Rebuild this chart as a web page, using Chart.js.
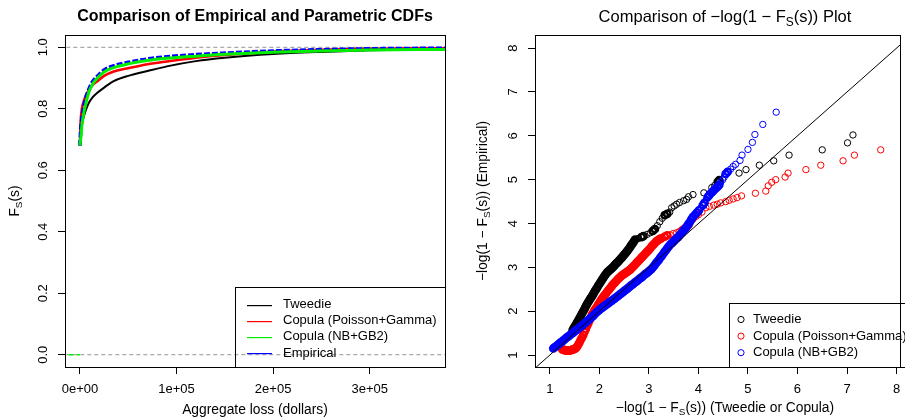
<!DOCTYPE html>
<html>
<head>
<meta charset="utf-8">
<script src="https://cdn.jsdelivr.net/npm/chart.js@4.4.1/dist/chart.umd.min.js"></script>
<style>
  html, body { margin: 0; padding: 0; background: #fff; }
  #wrap { position: relative; width: 905px; height: 417px; overflow: hidden; }
  .panel { position: absolute; top: 0; height: 417px; }
  #left { left: 0; width: 452px; }
  #right { left: 452px; width: 453px; }
</style>
</head>
<body>
<div id="wrap">
  <div class="panel" id="left"><canvas id="cdfChart"></canvas></div>
  <div class="panel" id="right"><canvas id="qqChart"></canvas></div>
</div>
<script>
const FONT = '"Liberation Sans", Arial, Helvetica, sans-serif';

// ---- left panel: CDFs of aggregate loss ----
const lossGrid     = [0, 700, 2000, 4000, 6000, 9000, 13000, 18000, 25000, 35000, 50000, 70000, 90000, 120000, 150000, 200000, 250000, 300000, 378000];
const cdfTweedie   = [0.68, 0.72, 0.748, 0.775, 0.795, 0.818, 0.837, 0.852, 0.869, 0.89, 0.907, 0.923, 0.938, 0.955, 0.966, 0.978, 0.985, 0.99, 0.994];
const cdfPoisGamma = [0.68, 0.755, 0.80, 0.825, 0.842, 0.86, 0.877, 0.89, 0.907, 0.921, 0.932, 0.945, 0.954, 0.966, 0.975, 0.986, 0.992, 0.995, 0.997];
const cdfNbGb2     = [0.68, 0.70, 0.745, 0.787, 0.815, 0.852, 0.88, 0.90, 0.92, 0.934, 0.946, 0.957, 0.964, 0.971, 0.977, 0.984, 0.988, 0.991, 0.993];
const cdfEmpirical = [0.68, 0.73, 0.77, 0.809, 0.835, 0.862, 0.888, 0.906, 0.926, 0.94, 0.951, 0.962, 0.969, 0.976, 0.981, 0.988, 0.992, 0.995, 0.997];
const negTailX = [-20000, 0];
const negTailY = [0, 0];

const lossTicks = [0, 100000, 200000, 300000];
const lossTickLabels = ['0e+00', '1e+05', '2e+05', '3e+05'];
const probTicks = [0, 0.2, 0.4, 0.6, 0.8, 1.0];
const probTickLabels = ['0.0', '0.2', '0.4', '0.6', '0.8', '1.0'];
const refLineX = [-1e6, 1e6];
const cdfLegend = ['Tweedie', 'Copula (Poisson+Gamma)', 'Copula (NB+GB2)', 'Empirical'];

// ---- right panel: -log(1 - F) model vs empirical ----
const tweedieX = [
  1.46, 1.48, 1.50, 1.52, 1.54, 1.56, 1.58, 1.60, 1.62, 1.64, 1.66, 1.68, 1.70, 1.72, 1.74, 1.76,
  1.78, 1.80, 1.82, 1.84, 1.86, 1.88, 1.90, 1.92, 1.94, 1.96, 1.98, 2.00, 2.02, 2.04, 2.06, 2.08,
  2.10, 2.12, 2.14, 2.16, 2.18, 2.20, 2.22, 2.24, 2.26, 2.28, 2.30, 2.32, 2.34, 2.36, 2.38, 2.40,
  2.42, 2.44, 2.46, 2.48, 2.50, 2.52, 2.54, 2.56, 2.58, 2.60, 2.62, 2.64, 2.66, 2.68, 2.70, 2.72,
  2.79, 2.85, 2.89, 2.96, 3.03, 3.08, 3.12, 3.17, 3.22, 3.27, 3.32, 3.37, 3.42, 3.46, 3.51, 3.56,
  3.62, 3.70, 3.76, 3.80, 3.89, 4.11, 4.27, 4.33, 4.39, 4.42, 4.82, 4.96, 5.23, 5.52, 5.83, 6.50,
  7.01, 7.12
];
const tweedieY = [
  1.57, 1.61, 1.65, 1.68, 1.72, 1.76, 1.80, 1.84, 1.88, 1.93, 1.97, 2.01, 2.05, 2.10, 2.14, 2.18,
  2.22, 2.25, 2.29, 2.32, 2.36, 2.40, 2.44, 2.48, 2.51, 2.55, 2.59, 2.62, 2.66, 2.69, 2.73, 2.76,
  2.80, 2.83, 2.86, 2.89, 2.91, 2.93, 2.95, 2.97, 2.99, 3.01, 3.04, 3.06, 3.09, 3.11, 3.13, 3.16,
  3.18, 3.21, 3.23, 3.26, 3.29, 3.31, 3.34, 3.37, 3.40, 3.43, 3.46, 3.50, 3.53, 3.56, 3.60, 3.63,
  3.66, 3.69, 3.71, 3.75, 3.79, 3.83, 3.87, 3.95, 4.04, 4.12, 4.19, 4.22, 4.26, 4.36, 4.40, 4.44,
  4.48, 4.52, 4.55, 4.61, 4.66, 4.70, 4.82, 4.87, 4.95, 4.99, 5.15, 5.23, 5.33, 5.43, 5.56, 5.68,
  5.84, 6.02
];

const poisGammaX = [
  1.250, 1.275, 1.300, 1.325, 1.350, 1.375, 1.400, 1.425, 1.450, 1.475, 1.500, 1.525, 1.550, 1.575,
  1.600, 1.625, 1.650, 1.675, 1.700, 1.725, 1.750, 1.775, 1.800, 1.825, 1.850, 1.875, 1.900, 1.925,
  1.950, 1.975, 2.000, 2.025, 2.050, 2.075, 2.100, 2.125, 2.150, 2.175, 2.200, 2.225, 2.250, 2.275,
  2.300, 2.325, 2.350, 2.375, 2.400, 2.425, 2.450, 2.475, 2.500, 2.525, 2.550, 2.575, 2.600, 2.625,
  2.650, 2.675, 2.700, 2.725, 2.750, 2.775, 2.800, 2.825, 2.850, 2.875, 2.900, 2.925, 2.950, 2.975,
  3.000, 3.025, 3.050, 3.075, 3.100, 3.125, 3.150, 3.175, 3.200, 3.225, 3.250,
  3.32, 3.37, 3.43, 3.49, 3.56, 3.62, 3.68, 3.72, 3.76, 3.80, 3.84, 3.89, 3.95, 4.00, 4.07, 4.15,
  4.22, 4.31, 4.38, 4.45, 4.55, 4.62, 4.70, 4.78, 4.87, 5.15, 5.36, 5.41, 5.48, 5.56, 5.75, 5.81,
  6.17, 6.47, 6.92, 7.15, 7.68
];
const poisGammaY = [
  1.13, 1.12, 1.11, 1.10, 1.10, 1.10, 1.10, 1.11, 1.12, 1.13, 1.14, 1.16, 1.19, 1.24,
  1.29, 1.35, 1.40, 1.46, 1.53, 1.59, 1.66, 1.72, 1.79, 1.85, 1.92, 1.97, 2.02, 2.06,
  2.10, 2.15, 2.19, 2.24, 2.28, 2.32, 2.36, 2.39, 2.43, 2.47, 2.50, 2.54, 2.57, 2.61,
  2.64, 2.67, 2.70, 2.73, 2.76, 2.78, 2.81, 2.83, 2.85, 2.87, 2.89, 2.91, 2.93, 2.95,
  2.98, 3.01, 3.04, 3.07, 3.10, 3.13, 3.16, 3.19, 3.22, 3.25, 3.28, 3.31, 3.34, 3.37,
  3.40, 3.43, 3.47, 3.50, 3.53, 3.56, 3.59, 3.61, 3.63, 3.65, 3.66,
  3.70, 3.73, 3.74, 3.77, 3.79, 3.82, 3.85, 3.88, 3.92, 3.97, 4.03, 4.10, 4.16, 4.20, 4.26, 4.36,
  4.39, 4.42, 4.44, 4.47, 4.50, 4.53, 4.56, 4.59, 4.63, 4.69, 4.74, 4.86, 4.94, 5.00, 5.06, 5.15,
  5.23, 5.33, 5.43, 5.56, 5.68
];

const nbGb2X = [
  1.07, 1.10, 1.13, 1.16, 1.19, 1.22, 1.25, 1.28, 1.31, 1.34, 1.37, 1.40, 1.43, 1.46, 1.49, 1.52,
  1.55, 1.58, 1.61, 1.64, 1.67, 1.70, 1.73, 1.76, 1.79, 1.82, 1.85, 1.88, 1.91, 1.94, 1.97, 2.00,
  2.03, 2.06, 2.09, 2.12, 2.15, 2.18, 2.21, 2.24, 2.27, 2.30, 2.33, 2.36, 2.39, 2.42, 2.45, 2.48,
  2.51, 2.54, 2.57, 2.60, 2.63, 2.66, 2.69, 2.72, 2.75, 2.78, 2.81, 2.84, 2.87, 2.90, 2.93, 2.96,
  2.99, 3.02, 3.05, 3.08, 3.11, 3.14, 3.17, 3.20, 3.23, 3.26, 3.29, 3.32, 3.35, 3.38, 3.41, 3.44,
  3.47, 3.50, 3.53, 3.56, 3.59, 3.62, 3.65, 3.68, 3.71, 3.74, 3.77, 3.80, 3.83, 3.86, 3.89,
  3.93, 3.97, 4.01, 4.05, 4.09, 4.12, 4.16, 4.19, 4.22, 4.26, 4.29, 4.32, 4.35, 4.39, 4.42, 4.45,
  4.49, 4.52, 4.55, 4.59, 4.65, 4.70, 4.75, 4.84, 4.88, 5.00, 5.09, 5.14, 5.30, 5.57
];
const nbGb2Y = [
  1.15, 1.18, 1.20, 1.23, 1.26, 1.29, 1.31, 1.34, 1.37, 1.40, 1.42, 1.45, 1.48, 1.50, 1.53, 1.56,
  1.58, 1.61, 1.64, 1.66, 1.69, 1.72, 1.75, 1.78, 1.81, 1.84, 1.87, 1.90, 1.94, 1.97, 2.00, 2.03,
  2.06, 2.08, 2.11, 2.13, 2.16, 2.18, 2.21, 2.23, 2.26, 2.28, 2.31, 2.33, 2.36, 2.39, 2.41, 2.44,
  2.47, 2.49, 2.52, 2.55, 2.58, 2.60, 2.63, 2.66, 2.68, 2.71, 2.74, 2.76, 2.79, 2.82, 2.85, 2.87,
  2.90, 2.93, 2.96, 3.00, 3.04, 3.09, 3.13, 3.17, 3.22, 3.26, 3.31, 3.36, 3.40, 3.45, 3.49, 3.53,
  3.56, 3.59, 3.63, 3.66, 3.69, 3.73, 3.77, 3.81, 3.85, 3.89, 3.94, 3.99, 4.04, 4.10, 4.15,
  4.20, 4.25, 4.30, 4.36, 4.42, 4.47, 4.55, 4.61, 4.65, 4.70, 4.73, 4.77, 4.80, 4.84, 4.88, 4.94,
  5.00, 5.06, 5.13, 5.18, 5.24, 5.30, 5.35, 5.44, 5.56, 5.69, 5.85, 6.03, 6.26, 6.54
];

const diagX = [0, 10];
const qqTicks = [1, 2, 3, 4, 5, 6, 7, 8];
const qqLegend = ['Tweedie', 'Copula (Poisson+Gamma)', 'Copula (NB+GB2)'];

const pts = (xs, ys) => xs.map((x, i) => ({ x, y: ys[i] }));

// draws a label with an F_S style subscript, optionally rotated
function drawMath(ctx, parts, x, y, size, weight, rotated) {
  const fontFor = sub => `${weight} ${sub ? size * 0.72 : size}px ${FONT}`;
  ctx.save();
  ctx.translate(x, y);
  if (rotated) ctx.rotate(-Math.PI / 2);
  let total = 0;
  parts.forEach(([t, sub]) => { ctx.font = fontFor(sub); total += ctx.measureText(t).width; });
  let cx = -total / 2;
  ctx.textAlign = 'left';
  ctx.textBaseline = 'middle';
  ctx.fillStyle = '#000';
  parts.forEach(([t, sub]) => {
    ctx.font = fontFor(sub);
    ctx.fillText(t, cx, sub ? size * 0.32 : 0);
    cx += ctx.measureText(t).width;
  });
  ctx.restore();
}

function drawBox(ctx, area) {
  ctx.save();
  ctx.setLineDash([]);
  ctx.strokeStyle = '#000';
  ctx.lineWidth = 1;
  ctx.strokeRect(Math.round(area.left) + 0.5, Math.round(area.top) + 0.5,
    Math.round(area.right - area.left), Math.round(area.bottom - area.top));
  ctx.restore();
}

function drawYLabels(chart, values, labels, xPos) {
  const ctx = chart.ctx;
  const ys = chart.scales.y;
  ctx.save();
  ctx.font = `13px ${FONT}`;
  ctx.fillStyle = '#000';
  ctx.textAlign = 'center';
  ctx.textBaseline = 'middle';
  values.forEach((v, i) => {
    ctx.save();
    ctx.translate(xPos, ys.getPixelForValue(v));
    ctx.rotate(-Math.PI / 2);
    ctx.fillText(labels[i], 0, 0);
    ctx.restore();
  });
  ctx.restore();
}

const fixTicks = list => scale => { scale.ticks = list.map(v => ({ value: v })); };

function axisX(min, max, ticks, labels) {
  return {
    type: 'linear', min, max,
    afterBuildTicks: fixTicks(ticks),
    afterFit: s => { s.height = 50; s.paddingLeft = 0; s.paddingRight = 0; },
    grid: { drawOnChartArea: false, drawTicks: true, tickLength: 7, color: '#000' },
    border: { display: false },
    ticks: {
      padding: 8, color: '#000', font: { family: FONT, size: 13 },
      maxRotation: 0, autoSkip: false,
      callback: (v, i) => labels[i]
    }
  };
}

function axisY(min, max, ticks, width) {
  return {
    type: 'linear', min, max,
    afterBuildTicks: fixTicks(ticks),
    afterFit: s => { s.width = width; s.paddingTop = 0; s.paddingBottom = 0; },
    grid: { drawOnChartArea: false, drawTicks: true, tickLength: 7, color: '#000' },
    border: { display: false },
    ticks: { display: false }
  };
}

const common = {
  responsive: true,
  maintainAspectRatio: false,
  animation: false,
  devicePixelRatio: 1,
  events: [],
  plugins: { legend: { display: false }, tooltip: { enabled: false } }
};

// ---- left chart ----
const cdfColors = ['#000000', '#ff0000', '#00ee00', '#0000ff'];

const cdfDecor = {
  id: 'cdfDecor',
  afterDraw(chart) {
    const ctx = chart.ctx;
    const a = chart.chartArea;
    drawBox(ctx, a);
    drawYLabels(chart, probTicks, probTickLabels, 43.5);
    drawMath(ctx, [['Comparison of Empirical and Parametric CDFs', false]], 255, 17, 16, 'bold', false);
    drawMath(ctx, [['Aggregate loss (dollars)', false]], 255, 410, 13.8, 'normal', false);
    drawMath(ctx, [['F', false], ['S', true], ['(s)', false]], 15, 201, 13.8, 'normal', true);

    // legend, transparent box in the lower right corner
    ctx.save();
    ctx.setLineDash([]);
    ctx.strokeStyle = '#000';
    ctx.lineWidth = 1;
    ctx.strokeRect(235.5, 287.5, a.right - 235, a.bottom - 287);
    ctx.font = `13px ${FONT}`;
    ctx.textAlign = 'left';
    ctx.textBaseline = 'middle';
    cdfLegend.forEach((lab, i) => {
      const y = 304.5 + i * 16.2;
      ctx.fillStyle = cdfColors[i];
      ctx.fillRect(247, Math.round(y), 25, 1.2);
      ctx.fillStyle = '#000';
      ctx.fillText(lab, 283, y);
    });
    ctx.restore();
  }
};

new Chart(document.getElementById('cdfChart'), {
  type: 'line',
  data: {
    datasets: [
      { data: pts(refLineX, [1, 1]), borderColor: '#aaaaaa', borderWidth: 1.3, borderDash: [4, 3], pointRadius: 0, order: 10 },
      { data: pts(refLineX, [0, 0]), borderColor: '#aaaaaa', borderWidth: 1.3, borderDash: [4, 3], pointRadius: 0, order: 10 },
      { data: pts(lossGrid, cdfTweedie), borderColor: cdfColors[0], borderWidth: 2, pointRadius: 0, cubicInterpolationMode: 'monotone', order: 5 },
      { data: pts(lossGrid, cdfPoisGamma), borderColor: cdfColors[1], borderWidth: 2.6, pointRadius: 0, cubicInterpolationMode: 'monotone', order: 4 },
      { data: pts(lossGrid, cdfEmpirical), borderColor: cdfColors[3], borderWidth: 3.6, borderDash: [6, 2], pointRadius: 0, cubicInterpolationMode: 'monotone', order: 3 },
      { data: pts(lossGrid, cdfNbGb2), borderColor: cdfColors[2], borderWidth: 3, pointRadius: 0, cubicInterpolationMode: 'monotone', order: 2 },
      { data: pts(negTailX, negTailY), borderColor: cdfColors[2], borderWidth: 1.5, borderDash: [5, 3], pointRadius: 0, order: 1 }
    ]
  },
  options: {
    ...common,
    layout: { padding: { left: 0, top: 35, right: 7, bottom: 0 } },
    scales: {
      x: axisX(-15500, 378000, lossTicks, lossTickLabels),
      y: axisY(-0.04, 1.04, probTicks, 65)
    }
  },
  plugins: [cdfDecor]
});

// ---- right chart ----
const qqColors = ['#000000', '#ff0000', '#0000ff'];

const qqDecor = {
  id: 'qqDecor',
  afterDraw(chart) {
    const ctx = chart.ctx;
    const a = chart.chartArea;
    drawBox(ctx, a);
    drawYLabels(chart, qqTicks, qqTicks.map(String), 61);
    const nl = ['\u2212log(1 \u2212 F', false];
    drawMath(ctx, [['Comparison of ', false], nl, ['S', true], ['(s)) Plot', false]], 273, 17, 16.5, 'normal', false);
    drawMath(ctx, [nl, ['S', true], ['(s)) (Tweedie or Copula)', false]], 273, 408, 13.8, 'normal', false);
    drawMath(ctx, [nl, ['S', true], ['(s)) (Empirical)', false]], 31, 201, 13.8, 'normal', true);

    // legend
    ctx.save();
    ctx.setLineDash([]);
    ctx.strokeStyle = '#000';
    ctx.lineWidth = 1;
    ctx.strokeRect(277.5, 303.5, 200, a.bottom - 303);
    ctx.font = `13px ${FONT}`;
    ctx.textAlign = 'left';
    ctx.textBaseline = 'middle';
    qqLegend.forEach((lab, i) => {
      const y = 319.5 + i * 16.6;
      ctx.strokeStyle = qqColors[i];
      ctx.beginPath();
      ctx.arc(289, y, 3.1, 0, Math.PI * 2);
      ctx.stroke();
      ctx.fillStyle = '#000';
      ctx.fillText(lab, 301, y);
    });
    ctx.restore();
  }
};

// heavier outline where circles pile up, so overlapping runs read as a solid band
function ringWidth(c) {
  const d = c.dataset.data;
  const i = c.dataIndex;
  const xs = c.chart.scales.x;
  const ys = c.chart.scales.y;
  if (!xs || !ys || !d[i]) return 1;
  let near = Infinity;
  [i - 1, i + 1].forEach(j => {
    if (j < 0 || j >= d.length) return;
    const dx = xs.getPixelForValue(d[j].x) - xs.getPixelForValue(d[i].x);
    const dy = ys.getPixelForValue(d[j].y) - ys.getPixelForValue(d[i].y);
    near = Math.min(near, Math.hypot(dx, dy));
  });
  return near < 3 ? 2.4 : 1;
}

const circle = color => ({
  showLine: false, pointStyle: 'circle', pointRadius: 3.2, pointBorderWidth: ringWidth,
  pointBorderColor: color, pointBackgroundColor: 'rgba(0,0,0,0)', borderColor: color
});

new Chart(document.getElementById('qqChart'), {
  type: 'scatter',
  data: {
    datasets: [
      { type: 'line', data: pts(diagX, diagX), borderColor: '#000', borderWidth: 1, pointRadius: 0, order: 0 },
      { data: pts(tweedieX, tweedieY), ...circle(qqColors[0]), order: 3 },
      { data: pts(poisGammaX, poisGammaY), ...circle(qqColors[1]), order: 2 },
      { data: pts(nbGb2X, nbGb2Y), ...circle(qqColors[2]), order: 1 }
    ]
  },
  options: {
    ...common,
    layout: { padding: { left: 0, top: 35, right: 0, bottom: 0 } },
    scales: {
      x: axisX(0.70, 8.07, qqTicks, qqTicks.map(String)),
      y: axisY(0.727, 8.30, qqTicks, 83)
    }
  },
  plugins: [qqDecor]
});
</script>
</body>
</html>
